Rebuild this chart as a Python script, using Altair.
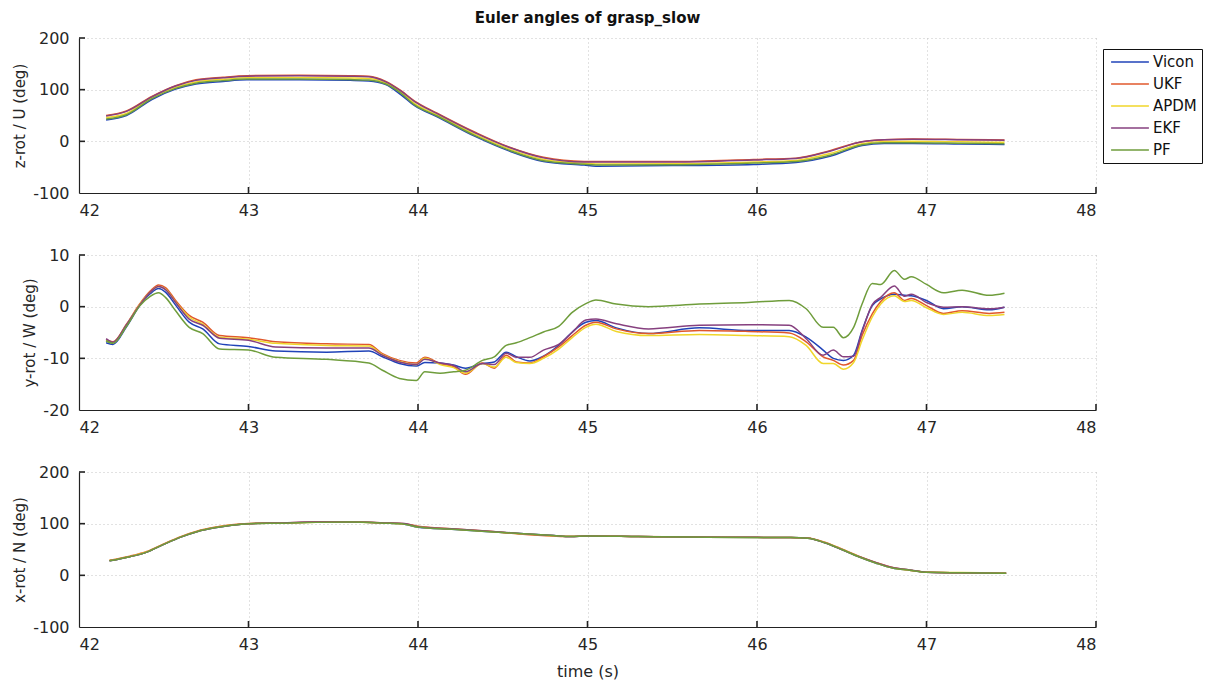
import altair as alt
import pandas as pd

SERIES = ["Vicon", "UKF", "APDM", "EKF", "PF"]
COLORS = ["#2043b8", "#e0582c", "#f0d62a", "#86407f", "#6f9d3c"]

XTICKS = [42, 43, 44, 45, 46, 47, 48]

# ---------- panel 1: z-rot / U ----------
T1 = [42.16, 42.28, 42.43, 42.57, 42.69, 42.85, 42.99, 43.30, 43.60, 43.71, 43.81,
      43.90, 43.98, 44.11, 44.34, 44.54, 44.74, 44.98, 45.05, 45.50, 45.98, 46.23,
      46.43, 46.62, 46.75, 46.92, 47.20, 47.46]
Z_VICON = [41.5, 50, 81, 101, 111, 116, 119, 119, 118, 117, 110, 90, 69, 48, 9, -19,
           -39, -46, -48, -47, -44.6, -41, -29, -8, -4, -4, -5, -6]
Z_UKF = [50, 58.7, 87, 107.7, 119, 124, 127, 128, 127, 126, 116, 98, 78, 55, 17, -11.5,
         -31, -39, -39, -39, -35, -32.5, -18, -0.6, 3, 4.5, 3.5, 2.5]
Z_APDM = [46, 54, 85, 104.5, 115, 120, 123, 123.5, 122.5, 121.5, 113, 95, 73, 51.5, 13,
          -15, -35, -42.5, -44, -43.5, -40, -37, -23.5, -4.5, -0.5, 0, -1, -2]
Z_EKF = [49, 58, 86, 107, 118, 123, 126, 127, 126, 125, 115, 97, 77, 54, 16, -12, -32,
         -40, -40, -40, -36, -33, -19, -1, 3, 4, 3, 2]
Z_PF = [43, 51.5, 82.5, 102.5, 112.5, 117.5, 120.5, 120.5, 119.5, 118.5, 111, 93, 70.5,
        49.5, 10.5, -17.5, -37.5, -44.5, -46, -45.5, -42, -39, -27, -6.5, -2.5, -2.5,
        -3.5, -4.5]

# ---------- panel 2: y-rot / W ----------
T2 = [42.16, 42.20, 42.28, 42.36, 42.42, 42.47, 42.51, 42.57, 42.65, 42.73, 42.83,
      43.00, 43.16, 43.46, 43.71, 43.79, 43.89, 43.99, 44.04, 44.13, 44.21, 44.28,
      44.38, 44.45, 44.52, 44.58, 44.66, 44.74, 44.83, 44.91, 44.99, 45.05, 45.17,
      45.36, 45.66, 45.95, 46.19, 46.29, 46.39, 46.45, 46.51, 46.57, 46.62, 46.68,
      46.73, 46.81, 46.87, 46.91, 47.00, 47.10, 47.21, 47.37, 47.46]
Y_VICON = [-7.0, -7.3, -3.9, 0.3, 2.5, 3.5, 2.8, 0.3, -3.0, -4.3, -7.2, -7.7, -8.6,
           -8.8, -8.6, -9.7, -11.0, -11.5, -10.8, -10.9, -11.3, -11.9, -11.0, -10.7,
           -8.8, -9.7, -10.5, -9.6, -7.5, -4.9, -3.0, -2.7, -4.1, -5.2, -4.1, -4.6,
           -4.6, -5.9, -8.4, -10.0, -10.4, -9.4, -4.6, 0.2, 1.5, 2.4, 2.2, 2.1, 1.2,
           -0.4, 0.0, -0.6, -0.1]
Y_UKF = [-6.4, -6.8, -3.4, 0.6, 3.0, 4.2, 3.7, 1.2, -1.7, -3.0, -5.6, -6.0, -6.8, -7.2,
         -7.3, -9.1, -10.4, -10.9, -9.8, -11.0, -11.6, -13.1, -10.9, -11.9, -9.4, -10.7,
         -10.9, -9.7, -7.8, -5.6, -3.6, -3.0, -4.3, -5.2, -4.6, -4.8, -5.1, -6.8, -9.7,
         -10.4, -11.3, -10.4, -5.6, -1.4, 1.0, 2.7, 1.2, 1.6, 0.2, -1.3, -0.8, -1.3, -1.1]
Y_APDM = [-6.6, -7.0, -3.6, 0.5, 2.8, 3.9, 3.4, 0.9, -2.0, -3.4, -5.9, -6.3, -7.1, -7.5,
          -7.6, -9.3, -10.6, -11.2, -10.0, -11.2, -11.8, -12.9, -11.0, -11.7, -9.8,
          -10.8, -11.0, -10.0, -8.2, -6.0, -4.0, -3.4, -4.8, -5.6, -5.4, -5.6, -5.8,
          -7.5, -11.0, -11.0, -12.1, -10.8, -6.5, -2.0, 0.5, 2.1, 1.0, 1.2, -0.2, -1.5,
          -1.1, -1.7, -1.5]
Y_EKF = [-6.2, -6.9, -3.5, 0.4, 2.8, 3.9, 3.3, 0.8, -2.4, -3.6, -6.1, -6.5, -7.8, -8.0,
         -8.0, -9.4, -10.7, -11.2, -10.2, -10.9, -11.4, -12.6, -11.0, -11.2, -9.0, -9.8,
         -9.8, -8.4, -7.3, -5.0, -2.6, -2.4, -3.3, -4.3, -3.6, -3.5, -3.6, -6.2, -9.4,
         -8.4, -9.7, -9.6, -4.8, 0.4, 1.8, 4.0, 2.0, 2.4, 0.8, -0.1, 0.0, -0.4, -0.1]
Y_PF = [-6.6, -7.1, -3.8, 0.2, 2.0, 2.7, 1.8, -0.8, -4.0, -5.2, -8.2, -8.4, -9.8, -10.2,
        -10.9, -12.3, -13.9, -14.3, -12.6, -12.9, -12.6, -12.3, -10.4, -9.7, -7.5, -7.0,
        -6.0, -4.9, -3.8, -1.1, 0.6, 1.3, 0.5, 0.0, 0.5, 0.8, 1.2, -0.4, -4.0, -4.0,
        -6.0, -4.0, 0.5, 4.5, 4.3, 7.0, 5.3, 5.8, 4.3, 2.7, 3.2, 2.2, 2.6]

# ---------- panel 3: x-rot / N ----------
T3 = [42.18, 42.30, 42.40, 42.50, 42.60, 42.70, 42.80, 42.90, 43.00, 43.20, 43.40,
      43.60, 43.80, 43.92, 44.00, 44.20, 44.40, 44.60, 44.80, 44.90, 45.00, 45.30,
      45.60, 46.00, 46.20, 46.30, 46.40, 46.50, 46.60, 46.70, 46.80, 46.90, 47.00,
      47.20, 47.47]
X_VICON = [28, 36, 45, 60, 74, 85, 92, 97, 100, 101, 103, 103, 101, 99, 93, 89, 85, 81,
           77, 75, 76, 75, 74, 73, 73, 72, 63, 50, 36, 24, 14, 10, 6, 5, 4]
X_UKF = [29, 37, 46, 61, 75, 86, 93, 98, 100.5, 101.5, 103, 103.5, 101.5, 100, 95, 90,
         86, 80, 76, 75, 76.5, 75, 74, 73.5, 73, 72.5, 64, 51, 37, 25, 15, 10, 6, 5, 4]
X_APDM = [28.5, 36.5, 45.5, 60.5, 74.5, 85.5, 92.5, 97.5, 100, 101, 102.5, 103, 101,
          99.5, 94, 89.5, 85.5, 80.5, 76.5, 75.5, 76, 75, 74, 73, 73, 72, 63.5, 50.5,
          36.5, 24.5, 14.5, 10, 6.5, 5.5, 4.5]
X_EKF = [28, 36, 45, 60, 74, 85, 92, 97, 100, 101.5, 103, 103, 101.5, 100.5, 94, 90, 86,
         81, 77, 75, 76, 75, 74, 73.5, 73, 72, 63, 50, 36.5, 25, 15, 10.5, 6, 5, 4]
X_PF = [28, 36, 45, 60, 74, 85, 92, 97, 100, 101, 102.5, 103, 101, 99, 93.5, 89, 85, 81,
        77, 75, 76, 75, 74, 73, 73, 72, 63, 50, 36, 24, 14, 10, 6, 5, 4]

W, H = 1017, 155
FONT = "DejaVu Sans"
TXT = "#262626"
HYPHEN = "replace(datum.label, '\u2212', '-')"


def long_df(times, arrays):
    rows = []
    for name, vals in zip(SERIES, arrays):
        for t, v in zip(times, vals):
            rows.append({"time": t, "val": v, "series": name})
    return pd.DataFrame(rows)


def panel(df, ytitle, ydomain, yticks, title=None, xtitle=None):
    xscale = alt.Scale(domain=[42, 48], nice=False, zero=False)
    yscale = alt.Scale(domain=ydomain, nice=False, zero=False)
    xaxis_kw = dict(values=XTICKS, format="d", labelPadding=9, grid=True)
    if xtitle:
        xaxis_kw.update(title=xtitle, titlePadding=11)
    else:
        xaxis_kw.update(title="")
    xaxis = alt.Axis(**xaxis_kw)
    yaxis = alt.Axis(values=yticks, format="d", labelExpr=HYPHEN, title=ytitle,
                     labelPadding=10, titlePadding=5, grid=True)
    lines = alt.Chart(df).mark_line(strokeWidth=1.5, interpolate="monotone", clip=True).encode(
        x=alt.X("time:Q", scale=xscale, axis=xaxis),
        y=alt.Y("val:Q", scale=yscale, axis=yaxis),
        color=alt.Color("series:N", sort=SERIES,
                        scale=alt.Scale(domain=SERIES, range=COLORS),
                        legend=alt.Legend(title=None)),
    )
    xt = pd.DataFrame({"time": XTICKS[1:]})
    xtick_layer = alt.Chart(xt).mark_rule(color="#222", strokeWidth=1.6).encode(
        x=alt.X("time:Q", scale=xscale, axis=xaxis),
        y=alt.value(H), y2=alt.value(H - 6),
    )
    yt = pd.DataFrame({"val": yticks[1:]})
    ytick_layer = alt.Chart(yt).mark_rule(color="#222", strokeWidth=1.6).encode(
        y=alt.Y("val:Q", scale=yscale, axis=yaxis),
        x=alt.value(0), x2=alt.value(6),
    )
    props = dict(width=W, height=H)
    if title:
        props["title"] = alt.TitleParams(title, anchor="middle", fontSize=15, font=FONT,
                                         fontWeight="bold", color="#111", offset=4)
    return alt.layer(lines, xtick_layer, ytick_layer).properties(**props)


df1 = long_df(T1, [Z_VICON, Z_UKF, Z_APDM, Z_EKF, Z_PF])
df2 = long_df(T2, [Y_VICON, Y_UKF, Y_APDM, Y_EKF, Y_PF])
df3 = long_df(T3, [X_VICON, X_UKF, X_APDM, X_EKF, X_PF])

p1 = panel(df1, "z-rot / U (deg)", [-100, 200], [-100, 0, 100, 200],
           title="Euler angles of grasp_slow")
p2 = panel(df2, "y-rot / W (deg)", [-20, 10], [-20, -10, 0, 10])
p3 = panel(df3, "x-rot / N (deg)", [-100, 200], [-100, 0, 100, 200], xtitle="time (s)")

chart = alt.vconcat(p1, p2, p3, spacing=62, bounds="flush").properties(
    padding={"left": 12, "top": 11, "right": 0, "bottom": 4}
).configure_view(stroke=None).configure_axis(
    labelFont=FONT, titleFont=FONT, labelFontSize=16, titleFontSize=15,
    labelColor=TXT, titleColor=TXT, titleFontWeight="normal",
    domainColor="#222", domainWidth=1.2, ticks=False,
    gridColor="#c4c4c4", gridDash=[1, 3], gridWidth=1,
).configure_axisX(titleFontSize=16).configure_legend(
    orient="none", legendX=1024, legendY=11,
    strokeColor="#111", fillColor="white", padding=5, cornerRadius=0,
    symbolType="M-2.7,0H2.7", symbolSize=196, symbolStrokeWidth=1.6, symbolOffset=14,
    labelFont=FONT, labelFontSize=15, labelColor="#111", rowPadding=6, labelOffset=15,
)

chart.save("out.html", embed_options={"renderer": "svg", "actions": False})
